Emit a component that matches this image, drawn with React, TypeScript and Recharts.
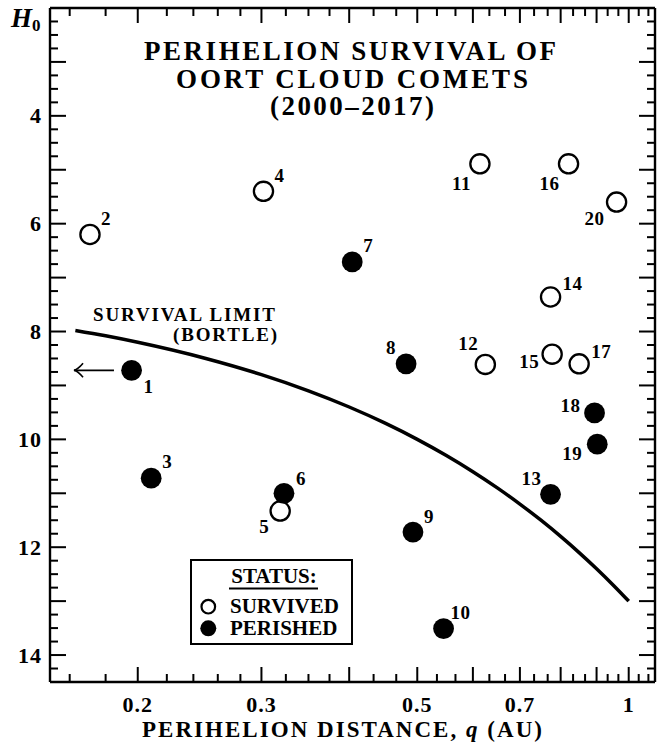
import React from 'react'
import { ScatterChart, Scatter, XAxis, YAxis, Legend } from 'recharts'

// comet data
const cometIds = [1, 2, 3, 4, 5, 6, 7, 8, 9, 10, 11, 12, 13, 14, 15, 16, 17, 18, 19, 20]
const perihelionQ = [0.196, 0.171, 0.209, 0.302, 0.319, 0.323, 0.404, 0.482, 0.493, 0.545, 0.614, 0.625, 0.774, 0.774, 0.778, 0.821, 0.85, 0.894, 0.902, 0.961]
const absMagH0 = [8.72, 6.2, 10.72, 5.4, 11.33, 11.0, 6.71, 8.6, 11.72, 13.51, 4.89, 8.61, 11.02, 7.36, 8.42, 4.89, 8.6, 9.51, 10.09, 5.6]
const survivedFlags = [false, true, false, true, true, false, false, false, false, false, true, true, false, true, true, true, true, false, false, true]

// survival limit (Bortle), sampled along the drawn curve
const limitQ = [0.163, 0.18, 0.2, 0.25, 0.3, 0.35, 0.4, 0.45, 0.5, 0.55, 0.6, 0.65, 0.7, 0.75, 0.8, 0.85, 0.9, 0.95, 1.0]
const limitH0 = [7.98, 8.08, 8.2, 8.5, 8.8, 9.1, 9.4, 9.7, 10.0, 10.3, 10.6, 10.9, 11.2, 11.5, 11.8, 12.1, 12.4, 12.7, 13.0]

// upper-limit arrow on comet 1
const arrowQ = [0.185, 0.1623]
const arrowH0 = [8.72, 8.72]

// axes
const xMajorTicks = [0.2, 0.3, 0.4, 0.5, 0.6, 0.7, 0.8, 0.9, 1.0]
const xMinorTicks = [0.16, 0.18, 0.22, 0.24, 0.26, 0.28, 0.325, 0.35, 0.375, 0.4333, 0.4667, 0.5333, 0.5667, 0.6333, 0.6667, 0.7333, 0.7667, 0.8333, 0.8667, 0.9333, 0.9667, 1.0333, 1.0667]
const xLabelValues = [0.2, 0.3, 0.5, 0.7, 1]
const xLabelTexts = ['0.2', '0.3', '0.5', '0.7', '1']
const yLabelValues = [4, 6, 8, 10, 12, 14]

const FONT = '"Liberation Serif", "Times New Roman", serif'

// label placement next to each comet: [dx, dy, anchor]
const LABEL_LAYOUT: [number, number, string][] = [
  [12, 23, 'start'], [11, -9, 'start'], [11, -10, 'start'], [11, -9, 'start'], [-11, 22, 'end'],
  [12, -8, 'start'], [11, -10, 'start'], [-10, -10, 'end'], [11, -9, 'start'], [7, -10, 'start'],
  [-9, 26, 'end'], [-7, -14, 'end'], [-9, -9, 'end'], [12, -7, 'start'], [-13, 14, 'end'],
  [-9, 26, 'end'], [12, -6, 'start'], [-14, -1, 'end'], [-15, 16, 'end'], [-12, 23, 'end'],
]

const comets = cometIds.map((id, i) => ({ id, q: perihelionQ[i], h: absMagH0[i], survived: survivedFlags[i] }))
const survivors = comets.filter(c => c.survived)
const perished = comets.filter(c => !c.survived)
const limitRows = limitQ.map((q, i) => ({ q, h: limitH0[i] }))
const arrowRows = arrowQ.map((q, i) => ({ q, h: arrowH0[i] }))

const xTicks = [...xMajorTicks, ...xMinorTicks].sort((a, b) => a - b)
const yTicks: number[] = []
for (let v = 2.25; v < 14.5; v += 0.25) yTicks.push(v)

const near = (a: number, b: number) => Math.abs(a - b) < 1e-6
const isMajorX = (v: number) => xMajorTicks.some(t => near(t, v))

const BottomTick = (props: any) => {
  const { x, y, payload } = props
  const v = payload.value
  const li = xLabelValues.findIndex(t => near(t, v))
  return (
    <g>
      <line x1={x} x2={x} y1={y} y2={y - (isMajorX(v) ? 15 : 8)} stroke="#000" strokeWidth={2} />
      {li >= 0 && (
        <text x={x} y={y + 30} textAnchor="middle" fontFamily={FONT} fontWeight="bold" fontSize={22} letterSpacing={1} fill="#000">
          {xLabelTexts[li]}
        </text>
      )}
    </g>
  )
}

const TopTick = (props: any) => {
  const { x, y, payload } = props
  return <line x1={x} x2={x} y1={y} y2={y + (isMajorX(payload.value) ? 15 : 8)} stroke="#000" strokeWidth={2} />
}

const LeftTick = (props: any) => {
  const { x, y, payload } = props
  const v = payload.value
  const major = near(v, Math.round(v))
  const labelled = yLabelValues.some(t => near(t, v))
  return (
    <g>
      <line x1={x} x2={x + (major ? 16 : 8)} y1={y} y2={y} stroke="#000" strokeWidth={2} />
      {labelled && (
        <text x={x - 8} y={y + 7.5} textAnchor="end" fontFamily={FONT} fontWeight="bold" fontSize={22} letterSpacing={1} fill="#000">
          {Math.round(v)}
        </text>
      )}
    </g>
  )
}

const RightTick = (props: any) => {
  const { x, y, payload } = props
  const v = payload.value
  const major = near(v, Math.round(v))
  return <line x1={x} x2={x - (major ? 16 : 8)} y1={y} y2={y} stroke="#000" strokeWidth={2} />
}

const CometMark = (props: any) => {
  const { cx, cy, payload } = props
  if (cx == null || cy == null) return <g />
  const [dx, dy, anchor] = LABEL_LAYOUT[payload.id - 1]
  return (
    <g>
      {payload.survived
        ? <circle cx={cx} cy={cy} r={9.6} fill="#fff" stroke="#000" strokeWidth={2.3} />
        : <circle cx={cx} cy={cy} r={10.4} fill="#000" />}
      <text x={cx + dx} y={cy + dy} textAnchor={anchor as any} fontFamily={FONT} fontWeight="bold" fontSize={19} letterSpacing={0.5} fill="#000">
        {payload.id}
      </text>
    </g>
  )
}

const ArrowHead = (props: any) => {
  const { cx, cy, payload } = props
  if (!near(payload.q, Math.min(...arrowQ))) return <g />
  return (
    <path
      d={`M${cx + 9},${cy - 7} Q${cx + 4},${cy - 1} ${cx},${cy} Q${cx + 4},${cy + 1} ${cx + 9},${cy + 7}`}
      fill="none" stroke="#000" strokeWidth={1.6}
    />
  )
}

const StatusLegend = () => (
  <svg width={163} height={86} style={{ display: 'block' }}>
    <rect x={1} y={1} width={161} height={84} fill="#fff" stroke="#000" strokeWidth={2} />
    <text x={84} y={24} textAnchor="middle" fontFamily={FONT} fontWeight="bold" fontSize={21}>STATUS:</text>
    <line x1={39} x2={128} y1={29.5} y2={29.5} stroke="#000" strokeWidth={2} />
    <circle cx={18.3} cy={47.7} r={6.8} fill="#fff" stroke="#000" strokeWidth={2.2} />
    <text x={40} y={54} fontFamily={FONT} fontWeight="bold" fontSize={21}>SURVIVED</text>
    <circle cx={18.3} cy={69.3} r={8} fill="#000" />
    <text x={40} y={76} fontFamily={FONT} fontWeight="bold" fontSize={21}>PERISHED</text>
  </svg>
)

export default function App() {
  return (
    <div style={{ position: 'absolute', left: 0, top: 0, width: 668, height: 743, background: '#fff' }}>
      <ScatterChart width={668} height={743} margin={{ top: 7, right: 12, bottom: 60, left: 49 }}>
        <XAxis
          xAxisId={0} dataKey="q" type="number" scale="log" domain={[0.15, 1.09]} allowDataOverflow
          ticks={xTicks} interval={0} tickSize={0} tickMargin={0} height={1}
          axisLine={{ stroke: '#000', strokeWidth: 2.4 }} tickLine={false} tick={<BottomTick />}
        />
        <XAxis
          xAxisId="top" orientation="top" dataKey="q" type="number" scale="log" domain={[0.15, 1.09]} allowDataOverflow
          ticks={xTicks} interval={0} tickSize={0} tickMargin={0} height={1}
          axisLine={{ stroke: '#000', strokeWidth: 2.4 }} tickLine={false} tick={<TopTick />}
        />
        <YAxis
          yAxisId={0} dataKey="h" type="number" domain={[2, 14.5]} reversed allowDataOverflow
          ticks={yTicks} interval={0} tickSize={0} tickMargin={0} width={1}
          axisLine={{ stroke: '#000', strokeWidth: 2.4 }} tickLine={false} tick={<LeftTick />}
        />
        <YAxis
          yAxisId="right" orientation="right" dataKey="h" type="number" domain={[2, 14.5]} reversed allowDataOverflow
          ticks={yTicks} interval={0} tickSize={0} tickMargin={0} width={1}
          axisLine={{ stroke: '#000', strokeWidth: 2.4 }} tickLine={false} tick={<RightTick />}
        />
        <Scatter
          data={limitRows} line={{ stroke: '#000', strokeWidth: 3.5 }} lineJointType="monotoneX"
          shape={() => <g />} isAnimationActive={false}
        />
        <Scatter
          data={arrowRows} line={{ stroke: '#000', strokeWidth: 1.6 }}
          shape={<ArrowHead />} isAnimationActive={false}
        />
        <Scatter data={survivors} shape={<CometMark />} isAnimationActive={false} />
        <Scatter data={perished} shape={<CometMark />} isAnimationActive={false} />
        <Legend
          layout="horizontal" verticalAlign="middle" align="center"
          content={() => <StatusLegend />}
          wrapperStyle={{ left: 190, top: 559, width: 163, height: 86 }}
        />
      </ScatterChart>
      <svg width={668} height={743} style={{ position: 'absolute', left: 0, top: 0, pointerEvents: 'none' }}>
        <g fontFamily={FONT} fontWeight="bold" fill="#000">
          <text x={350} y={60} textAnchor="middle" fontSize={27} textLength={412} lengthAdjust="spacing">PERIHELION SURVIVAL OF</text>
          <text x={352} y={87.5} textAnchor="middle" fontSize={27} textLength={352} lengthAdjust="spacing">OORT CLOUD COMETS</text>
          <text x={352} y={115} textAnchor="middle" fontSize={27} textLength={164} lengthAdjust="spacing">(2000–2017)</text>
          <text x={93} y={321} fontSize={19} textLength={182} lengthAdjust="spacing">SURVIVAL LIMIT</text>
          <text x={173} y={340.5} fontSize={19} textLength={104} lengthAdjust="spacing">(BORTLE)</text>
          <text x={11} y={27} fontSize={27} fontStyle="italic">
            H<tspan fontSize={17} fontStyle="normal" dy={4}>0</tspan>
          </text>
          <text x={142} y={736.5} fontSize={23} textLength={400} lengthAdjust="spacing">
            PERIHELION DISTANCE, <tspan fontStyle="italic">q</tspan> (AU)
          </text>
        </g>
      </svg>
    </div>
  )
}
